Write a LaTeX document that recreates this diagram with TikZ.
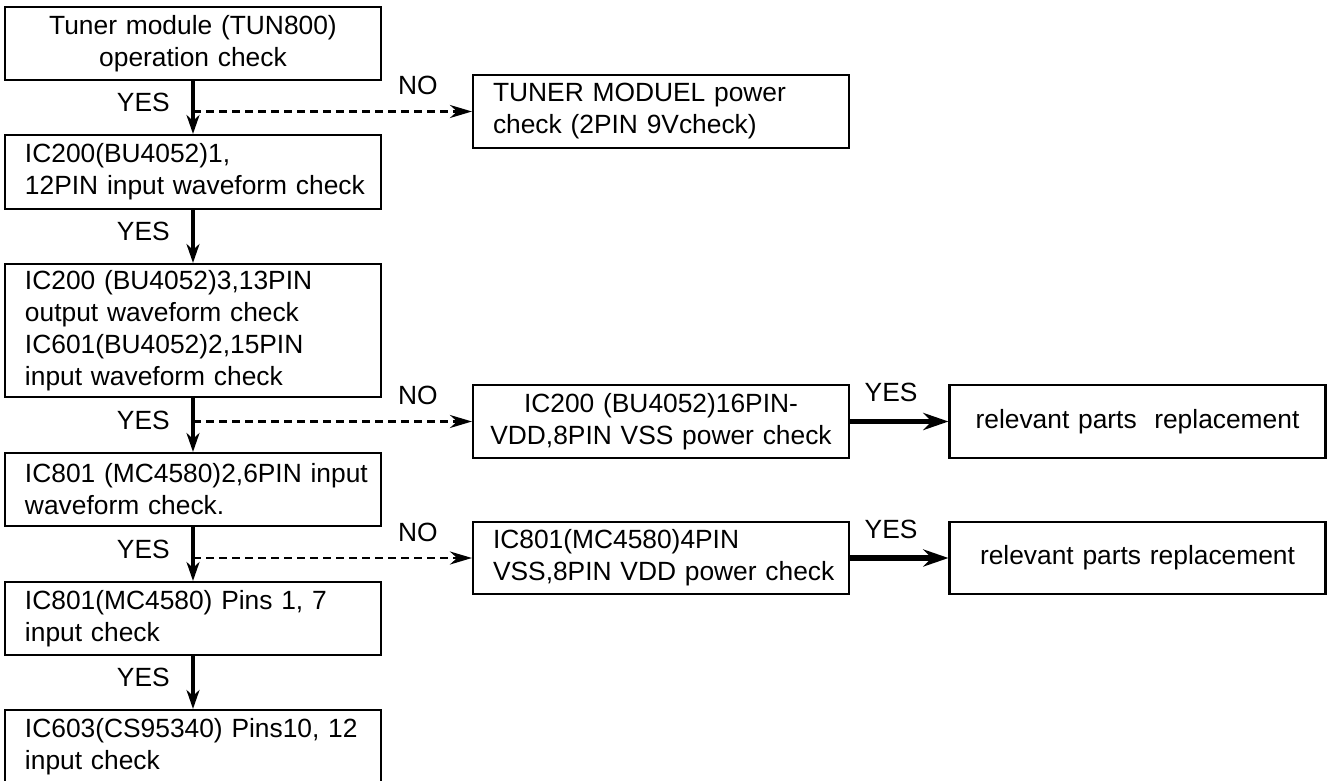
\documentclass[tikz,border=0pt]{standalone}
\usepackage{fontspec}
\setmainfont{Liberation Sans}
\usetikzlibrary{arrows.meta,calc}

\begin{document}
\begin{tikzpicture}[
  chkbox/.style={draw, line width=1.2pt, text width=7.12cm, inner xsep=0.2cm, inner ysep=0pt,
    minimum height=1.46cm, font=\fontsize{15}{18.2}\selectfont},
  lft/.style={align=left, execute at begin node={\leftskip=0.2cm}},
  ctr/.style={align=center},
  lbl/.style={inner sep=0pt, font=\fontsize{15}{18}\selectfont},
  yes/.style={line width=2.6pt, -{Stealth[length=0.38cm, width=0.26cm]}},
  yesr/.style={line width=3pt, -{Stealth[length=0.5cm, width=0.34cm]}},
  no/.style={line width=1.5pt, dash pattern=on 0.16cm off 0.1cm, -{Stealth[length=0.44cm, width=0.26cm]}}]
\useasboundingbox (0,0) rectangle (26.56,-15.62);

% main column
\node[chkbox, ctr] (c1) at (3.86,-0.87) {Tuner module (TUN800)\\operation check};
\node[chkbox, lft, minimum height=1.48cm] (c2) at (3.86,-3.44) {IC200(BU4052)1,\\12PIN input waveform check};
\node[chkbox, lft, minimum height=2.66cm] (c3) at (3.86,-6.61) {IC200 (BU4052)3,13PIN\\output waveform check\\IC601(BU4052)2,15PIN\\input waveform check};
\node[chkbox, lft] (c4) at (3.86,-9.79) {IC801 (MC4580)2,6PIN input\\waveform check.};
\node[chkbox, lft] (c5) at (3.86,-12.37) {IC801(MC4580) Pins 1, 7\\input check};
\node[chkbox, lft, minimum height=1.48cm] (c6) at (3.86,-14.94) {IC603(CS95340) Pins10, 12\\input check};

% power checks
\node[chkbox, lft] (p1) at (13.22,-2.23) {TUNER MODUEL power\\check (2PIN 9Vcheck)};
\node[chkbox, ctr] (p2) at (13.22,-8.43) {IC200 (BU4052)16PIN-\\VDD,8PIN VSS power check};
\node[chkbox, lft, minimum height=1.44cm] (p3) at (13.22,-11.16) {IC801(MC4580)4PIN\\VSS,8PIN VDD power check};

% replacement
\node[chkbox, ctr] (r2) at (22.75,-8.43) {relevant parts~ replacement};
\node[chkbox, ctr, minimum height=1.44cm] (r3) at (22.75,-11.16) {relevant parts replacement};

\coordinate (j1) at (c1.south |- p1.west);
\coordinate (j2) at (c3.south |- p2.west);
\coordinate (j3) at (c4.south |- p3.west);

\draw[yes] (c1) -- node[lbl, anchor=east, xshift=-0.42cm, yshift=0.1cm] {YES} (c2);
\draw[yes] (c2) -- node[lbl, anchor=east, xshift=-0.42cm, yshift=0.1cm] {YES} (c3);
\draw[yes] (c3) -- node[lbl, anchor=east, xshift=-0.42cm, yshift=0.1cm] {YES} (c4);
\draw[yes] (c4) -- node[lbl, anchor=east, xshift=-0.42cm, yshift=0.1cm] {YES} (c5);
\draw[yes] (c5) -- node[lbl, anchor=east, xshift=-0.42cm, yshift=0.1cm] {YES} (c6);

\draw[no] (j1) -- node[lbl, pos=1, anchor=south east, xshift=-0.66cm, yshift=0.3cm] {NO} (p1);
\draw[no] (j2) -- node[lbl, pos=1, anchor=south east, xshift=-0.66cm, yshift=0.3cm] {NO} (p2);
\draw[no] (j3) -- node[lbl, pos=1, anchor=south east, xshift=-0.66cm, yshift=0.3cm] {NO} (p3);

\draw[yesr] (p2) -- node[lbl, pos=0, anchor=south west, xshift=0.24cm, yshift=0.34cm] {YES} (r2);
\draw[yesr] (p3) -- node[lbl, pos=0, anchor=south west, xshift=0.24cm, yshift=0.34cm] {YES} (r3);
\end{tikzpicture}
\end{document}
